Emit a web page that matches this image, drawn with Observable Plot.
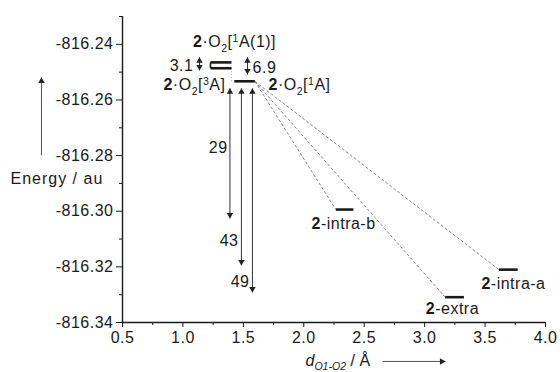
<!DOCTYPE html>
<html><head><meta charset="utf-8">
<script src="https://cdn.jsdelivr.net/npm/d3@7"></script>
<script src="https://cdn.jsdelivr.net/npm/@observablehq/plot@0.6"></script>
<style>
html,body{margin:0;padding:0;background:#fff}
svg text{font-family:"Liberation Sans",Arial,Helvetica,sans-serif;letter-spacing:0.5px}
</style></head><body><div id="chart"></div>
<script>
// ---- axis ticks ----
const yMajorTicks = [-816.24, -816.26, -816.28, -816.30, -816.32, -816.34];
const yMinorTicks = [-816.23, -816.25, -816.27, -816.29, -816.31, -816.33];
const xMajorTicks = [0.5, 1.0, 1.5, 2.0, 2.5, 3.0, 3.5, 4.0];
const xMinorTicks = [0.75, 1.25, 1.75, 2.25, 2.75, 3.25, 3.75];

// ---- energy levels (d O1-O2 range in Å, energy in au) ----
const levelKeys   = ["1A(1) upper", "1A(1) lower", "2·O2", "intra-b", "extra", "intra-a"];
const levelX1     = [1.228, 1.228, 1.425, 2.265, 3.170, 3.615];
const levelX2     = [1.402, 1.402, 1.595, 2.410, 3.325, 3.770];
const levelEnergy = [-816.2465, -816.2486, -816.2533, -816.2994, -816.3309, -816.3210];

// ---- correlation (dashed) lines: from the 2·O2 level to the products ----
const corrFrom = 2;
const corrTo = [3, 4, 5];

// ---- binding-energy arrows (kcal/mol) ----
const bindX      = [1.389, 1.484, 1.575];
const bindTop    = -816.2558;
const bindBottom = [-816.3026, -816.3195, -816.3292];
const bindLabels = ["29", "43", "49"];
const bindLabelX = [1.369, 1.460, 1.551];
const bindLabelE = [-816.2771, -816.3105, -816.3253];

// ---- small gap arrows ----
const gapLabels = ["3.1", "6.9"];
const gapX      = [1.137, 1.534];
const gapTop    = [-816.2447, -816.2447];
const gapBottom = [-816.2494, -816.2508];
const gapLabelX = [1.087, 1.576];
const gapLabelE = [-816.2476, -816.2483];
const gapAnchor = ["end", "start"];

// ---- state labels (markup: **bold**, _{sub}, ^{sup}, ~italic~) ----
const stateLabels = ["**2**·O_{2}[^{1}A(1)]", "**2**·O_{2}[^{3}A]", "**2**·O_{2}[^{1}A]", "**2**-intra-b", "**2**-extra", "**2**-intra-a"];
const stateX      = [1.427, 1.352, 1.708, 2.329, 3.230, 3.735];
const stateE      = [-816.2393, -816.2547, -816.2547, -816.3044, -816.3350, -816.3260];
const stateAnchor = ["middle", "end", "start", "middle", "middle", "middle"];

// ---- axis titles ----
const yTitle = "Energy / au";
const yTitlePos = {x: -0.427, e: -816.2882};
const yTitleArrow = {x: -0.1705, e1: -816.2799, e2: -816.2519};
const xTitle = "~d~_{~O1-O2~} / Å";
const xTitlePos = {x: 2.014, e: -816.3537};
const xTitleArrow = {x1: 2.650, x2: 3.172, e: -816.3540};

// ---- build tables ----
const levels = levelKeys.map((k, i) => ({k, x1: levelX1[i], x2: levelX2[i], e: levelEnergy[i]}));
const corr = corrTo.map(j => ({x1: levelX2[corrFrom], e1: levelEnergy[corrFrom], x2: levelX1[j], e2: levelEnergy[j]}));
const binds = bindX.map((x, i) => ({x, e1: bindTop, e2: bindBottom[i]}));
const bindText = bindLabels.map((t, i) => ({t, x: bindLabelX[i], e: bindLabelE[i]}));
const gaps = gapLabels.map((t, i) => ({x: gapX[i], e1: gapTop[i], e2: gapBottom[i]}));
const gapText = gapLabels.map((t, i) => ({t, x: gapLabelX[i], e: gapLabelE[i], a: gapAnchor[i]}));
const states = stateLabels.map((t, i) => ({t, x: stateX[i], e: stateE[i], a: stateAnchor[i]}));

const upTips = [
  ...binds.map(d => ({x: d.x, e: d.e1})),
  ...gaps.map(d => ({x: d.x, e: d.e1})),
  {x: yTitleArrow.x, e: yTitleArrow.e2}
];
const downTips = [
  ...binds.map(d => ({x: d.x, e: d.e2})),
  ...gaps.map(d => ({x: d.x, e: d.e2}))
];
const rightTips = [{x: xTitleArrow.x2, e: xTitleArrow.e}];

const ink = "#1a1a1a";
const fmt = d => d.toFixed(2);
const fmtX = d => d.toFixed(1);
const FS = 16;

const anchors = ["start", "middle", "end"];

const plot = Plot.plot({
  width: 560,
  height: 372,
  marginLeft: 122,
  marginRight: 15,
  marginTop: 16,
  marginBottom: 50,
  style: {fontFamily: "Liberation Sans, Arial, sans-serif", fontSize: FS + "px", color: ink, background: "#fff"},
  x: {domain: [0.5, 4.0], axis: null},
  y: {domain: [-816.34, -816.23], axis: null},
  marks: [
    // axes
    Plot.axisY(yMajorTicks, {tickSize: 6, tickPadding: 3, tickFormat: fmt, fontSize: FS, stroke: ink, fill: ink}),
    Plot.axisY(yMinorTicks, {tickSize: 3, tickFormat: () => "", stroke: ink}),
    Plot.axisX(xMajorTicks, {tickSize: 5, tickPadding: 4, tickFormat: fmtX, fontSize: FS, stroke: ink, fill: ink}),
    Plot.axisX(xMinorTicks, {tickSize: 3, tickFormat: () => "", stroke: ink}),
    Plot.ruleX([0.5], {stroke: ink, strokeWidth: 1.4}),
    Plot.ruleY([-816.34], {stroke: ink, strokeWidth: 1.4}),

    // correlation lines
    Plot.link(corr, {x1: "x1", y1: "e1", x2: "x2", y2: "e2", stroke: "#8a8a8a", strokeWidth: 1, strokeDasharray: "3,2"}),
    Plot.link([{x: levelX2[1], e1: levelEnergy[1], e2: levelEnergy[2]}], {x1: "x", x2: "x", y1: "e1", y2: "e2", stroke: "#aaa", strokeWidth: 1, strokeDasharray: "1,2"}),

    // energy levels
    Plot.link(levels, {x1: "x1", x2: "x2", y1: "e", y2: "e", stroke: ink, strokeWidth: 2.6}),
    Plot.link([{x: levelX1[0], e1: levelEnergy[0], e2: levelEnergy[1]}], {x1: "x", x2: "x", y1: "e1", y2: "e2", stroke: ink, strokeWidth: 1.6}),

    // arrows
    Plot.link(binds, {x1: "x", x2: "x", y1: "e1", y2: "e2", stroke: "#333", strokeWidth: 1}),
    Plot.link(gaps, {x1: "x", x2: "x", y1: "e1", y2: "e2", stroke: "#333", strokeWidth: 1}),
    Plot.link([yTitleArrow], {x1: "x", x2: "x", y1: "e1", y2: "e2", stroke: "#555", strokeWidth: 1}),
    Plot.link([xTitleArrow], {x1: "x1", x2: "x2", y1: "e", y2: "e", stroke: "#555", strokeWidth: 1}),
    Plot.dot(upTips, {x: "x", y: "e", symbol: "triangle", r: 2.4, fill: "#222", dy: 3.6}),
    Plot.dot(downTips, {x: "x", y: "e", symbol: "triangle", r: 2.4, rotate: 180, fill: "#222", dy: -3.6}),
    Plot.dot(rightTips, {x: "x", y: "e", symbol: "triangle", r: 2.4, rotate: 90, fill: "#222", dx: -3.6}),

    // labels
    Plot.text(bindText, {x: "x", y: "e", text: "t", textAnchor: "end", fontSize: FS, fill: ink}),
    ...anchors.map(a => Plot.text(gapText.filter(d => d.a === a), {x: "x", y: "e", text: "t", textAnchor: a, fontSize: FS, fill: ink})),
    ...anchors.map(a => Plot.text(states.filter(d => d.a === a), {x: "x", y: "e", text: "t", textAnchor: a, fontSize: FS, fill: ink})),
    Plot.text([yTitlePos], {x: "x", y: "e", text: () => yTitle, textAnchor: "start", fontSize: FS, fill: ink}),
    Plot.text([xTitlePos], {x: "x", y: "e", text: () => xTitle, textAnchor: "start", fontSize: FS, fill: ink})
  ]
});

// turn light markup into real styled tspans
function richify(el, base) {
  const s = el.textContent;
  if (!/(\*\*|_\{|\^\{|~)/.test(s)) return false;
  while (el.firstChild) el.removeChild(el.firstChild);
  let bold = false, ital = false, mode = 0, buf = "", shift = 0;
  const flush = () => {
    if (!buf) return;
    const t = document.createElementNS("http://www.w3.org/2000/svg", "tspan");
    t.textContent = buf;
    if (bold) t.setAttribute("font-weight", "bold");
    if (ital) t.setAttribute("font-style", "italic");
    const target = mode === 1 ? 0.28 * base : mode === 2 ? -0.36 * base : 0;
    if (target !== shift) { t.setAttribute("dy", target - shift); shift = target; }
    if (mode) t.setAttribute("font-size", 0.66 * base);
    el.appendChild(t);
    buf = "";
  };
  for (let i = 0; i < s.length; i++) {
    const c = s[i];
    if (c === "*" && s[i + 1] === "*") { flush(); bold = !bold; i++; }
    else if (c === "~") { flush(); ital = !ital; }
    else if ((c === "_" || c === "^") && s[i + 1] === "{") { flush(); mode = c === "_" ? 1 : 2; i++; }
    else if (c === "}" && mode) { flush(); mode = 0; }
    else buf += c;
  }
  flush();
  return true;
}
plot.querySelectorAll("text").forEach(t => {
  const raw = t.textContent;
  richify(t, FS);
  if (raw === yTitle) t.style.letterSpacing = "1px";
  if (raw === xTitle) t.style.letterSpacing = "0px";
});

document.getElementById("chart").appendChild(plot);
</script>
</body></html>
